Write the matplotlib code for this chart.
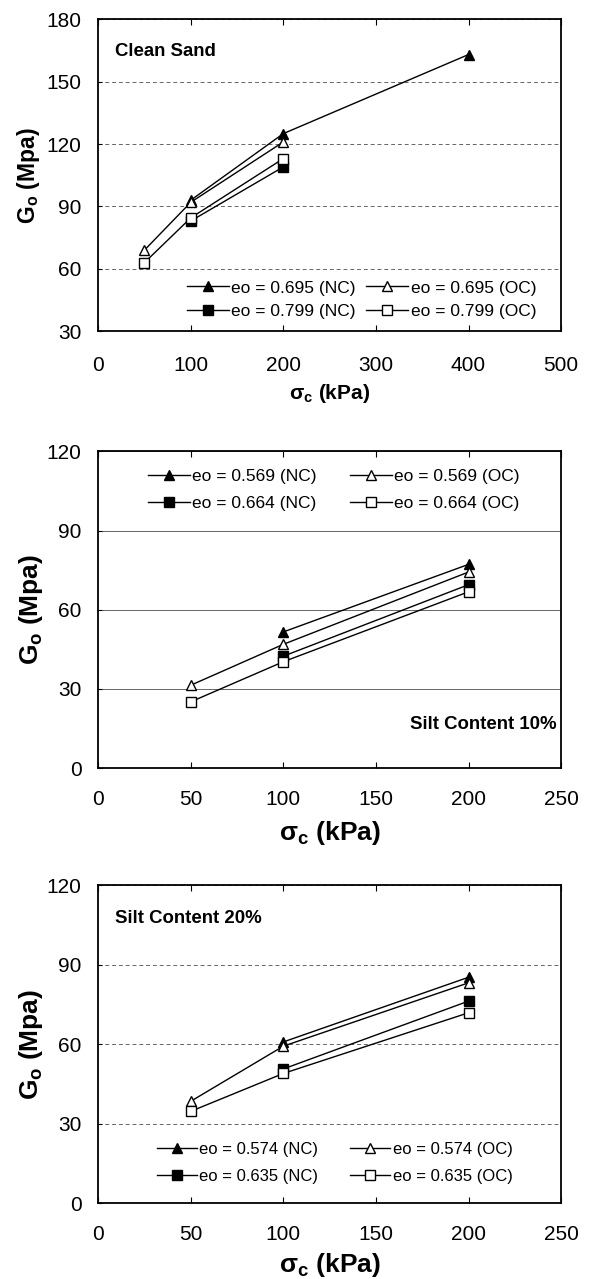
import numpy as np
import matplotlib.pyplot as plt
from matplotlib.lines import Line2D

plt.rcParams['font.family'] = ['Liberation Sans', 'DejaVu Sans']
plt.rcParams['mathtext.fontset'] = 'custom'
plt.rcParams['mathtext.rm'] = 'Liberation Sans'
plt.rcParams['mathtext.bf'] = 'Liberation Sans:bold'

# --- data (sigma_c in kPa, Go in MPa) ---
# Clean Sand
cs_nc1_x = [100, 200, 400]
cs_nc1_y = [93, 125, 163]
cs_oc1_x = [50, 100, 200]
cs_oc1_y = [69, 92, 121]
cs_nc2_x = [100, 200]
cs_nc2_y = [83, 109]
cs_oc2_x = [50, 100, 200]
cs_oc2_y = [63, 84.5, 113]
cs_labels = ['eo = 0.695 (NC)', 'eo = 0.695 (OC)', 'eo = 0.799 (NC)', 'eo = 0.799 (OC)']

# Silt Content 10%
s10_nc1_x = [100, 200]
s10_nc1_y = [51.6, 77.2]
s10_oc1_x = [50, 100, 200]
s10_oc1_y = [31.4, 46.9, 74.3]
s10_nc2_x = [100, 200]
s10_nc2_y = [42.4, 69.5]
s10_oc2_x = [50, 100, 200]
s10_oc2_y = [25.1, 40.3, 66.8]
s10_labels = ['eo = 0.569 (NC)', 'eo = 0.569 (OC)', 'eo = 0.664 (NC)', 'eo = 0.664 (OC)']

# Silt Content 20%
s20_nc1_x = [100, 200]
s20_nc1_y = [60.8, 85.2]
s20_oc1_x = [50, 100, 200]
s20_oc1_y = [38.4, 59.2, 83.1]
s20_nc2_x = [100, 200]
s20_nc2_y = [50.6, 76.2]
s20_oc2_x = [50, 100, 200]
s20_oc2_y = [34.6, 48.9, 71.8]
s20_labels = ['eo = 0.574 (NC)', 'eo = 0.574 (OC)', 'eo = 0.635 (NC)', 'eo = 0.635 (OC)']

styles = [('^', 'black'), ('^', 'white'), ('s', 'black'), ('s', 'white')]


def draw_panel(ax, series, labels, xlim, xticks, ylim, yticks, grid_ls,
               leg_anchor, colsp, lsp, xpad, legfs=12.5):
    for (x, y), (m, fc) in zip(series, styles):
        ax.plot(x, y, color='black', lw=1.0, marker=m, markersize=7.5,
                markerfacecolor=fc, markeredgecolor='black', markeredgewidth=1.0,
                zorder=3)
    ax.set_xlim(*xlim)
    ax.set_ylim(*ylim)
    ax.set_xticks(xticks)
    ax.set_yticks(yticks)
    ax.yaxis.grid(True, color='#666666', lw=0.7, ls=grid_ls)
    ax.set_axisbelow(True)
    ax.tick_params(axis='x', direction='in', top=True, length=4, labelsize=15, pad=xpad)
    ax.tick_params(axis='y', direction='in', length=3, labelsize=15, pad=12)
    for s in ax.spines.values():
        s.set_linewidth(1.3)
    handles = [Line2D([], [], color='black', lw=1.0, marker=m, markersize=7,
                      markerfacecolor=fc, markeredgecolor='black')
               for (m, fc) in styles]
    # row-wise order: NC1, OC1 / NC2, OC2
    order = [0, 2, 1, 3]
    ax.legend([handles[i] for i in order], [labels[i] for i in order],
              loc='upper left', bbox_to_anchor=leg_anchor, ncol=2, frameon=False,
              fontsize=legfs, handlelength=2.4, handletextpad=0.15,
              columnspacing=colsp, labelspacing=lsp, borderpad=0,
              borderaxespad=0)


fig = plt.figure(figsize=(5.95, 12.79), dpi=100)
L, W = 0.165, 0.778

# top panel: Clean Sand
ax1 = fig.add_axes([L, 0.741, W, 0.244])
draw_panel(ax1, [(cs_nc1_x, cs_nc1_y), (cs_oc1_x, cs_oc1_y),
                 (cs_nc2_x, cs_nc2_y), (cs_oc2_x, cs_oc2_y)],
           cs_labels, (0, 500), [0, 100, 200, 300, 400, 500],
           (30, 180), [30, 60, 90, 120, 150, 180], (0, (4, 3)),
           (0.192, 0.163), 0.6, 0.47, 18)
ax1.text(0.037, 0.897, 'Clean Sand', transform=ax1.transAxes, fontsize=13.4,
         fontweight='bold', va='center', ha='left')
ax1.set_xlabel(r'σ$_\mathbf{c}$ (kPa)', fontsize=15, fontweight='bold', labelpad=5)
ax1.set_ylabel(r'G$_\mathbf{o}$ (Mpa)', fontsize=16.5, fontweight='bold', labelpad=3)

# middle panel: Silt Content 10%
ax2 = fig.add_axes([L, 0.3995, W, 0.2475])
draw_panel(ax2, [(s10_nc1_x, s10_nc1_y), (s10_oc1_x, s10_oc1_y),
                 (s10_nc2_x, s10_nc2_y), (s10_oc2_x, s10_oc2_y)],
           s10_labels, (0, 250), [0, 50, 100, 150, 200, 250],
           (0, 120), [0, 30, 60, 90, 120], '-',
           (0.108, 0.946), 1.9, 0.7, 16)
ax2.text(0.674, 0.136, 'Silt Content 10%', transform=ax2.transAxes, fontsize=13.4,
         fontweight='bold', va='center', ha='left')
ax2.set_xlabel(r'σ$_\mathbf{c}$ (kPa)', fontsize=19, fontweight='bold', labelpad=7)
ax2.set_ylabel(r'G$_\mathbf{o}$ (Mpa)', fontsize=19, fontweight='bold', labelpad=1)

# bottom panel: Silt Content 20%
ax3 = fig.add_axes([L, 0.0594, W, 0.2486])
draw_panel(ax3, [(s20_nc1_x, s20_nc1_y), (s20_oc1_x, s20_oc1_y),
                 (s20_nc2_x, s20_nc2_y), (s20_oc2_x, s20_oc2_y)],
           s20_labels, (0, 250), [0, 50, 100, 150, 200, 250],
           (0, 120), [0, 30, 60, 90, 120], (0, (4, 3)),
           (0.127, 0.192), 1.9, 0.7, 16, legfs=12)
ax3.text(0.037, 0.896, 'Silt Content 20%', transform=ax3.transAxes, fontsize=13.4,
         fontweight='bold', va='center', ha='left')
ax3.set_xlabel(r'σ$_\mathbf{c}$ (kPa)', fontsize=19, fontweight='bold', labelpad=5)
ax3.set_ylabel(r'G$_\mathbf{o}$ (Mpa)', fontsize=19, fontweight='bold', labelpad=1)

plt.savefig('out.png', dpi=100)
